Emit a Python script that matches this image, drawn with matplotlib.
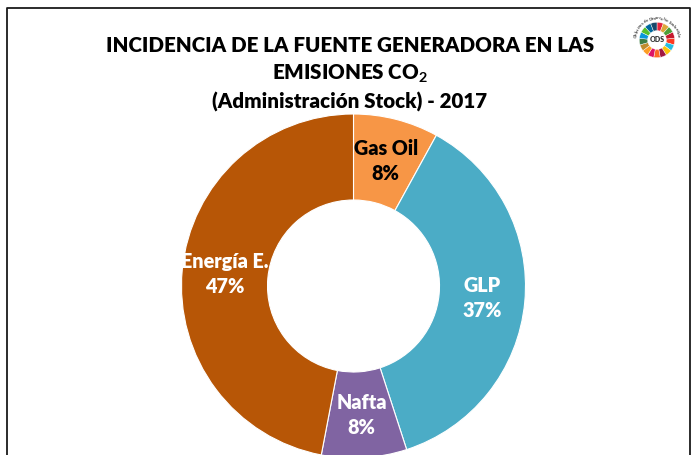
import matplotlib
matplotlib.use("Agg")
import matplotlib.pyplot as plt
from matplotlib.lines import Line2D
import numpy as np

plt.rcParams['font.family'] = ['Lato', 'DejaVu Sans']
plt.rcParams['mathtext.fontset'] = 'custom'
plt.rcParams['mathtext.rm'] = 'Lato:bold'
plt.rcParams['mathtext.it'] = 'Lato:bold'
plt.rcParams['mathtext.bf'] = 'Lato:bold'

categories = ["Gas Oil", "GLP", "Nafta", "Energía E."]
values = [8, 37, 8, 47]
colors = ["#F79646", "#4BACC6", "#8064A2", "#B75606"]
label_colors = ["black", "white", "white", "white"]

title_lines = ["INCIDENCIA DE LA FUENTE GENERADORA EN LAS",
               "EMISIONES CO$_{2}$",
               "(Administración Stock) - 2017"]

sdg_colors = ["#E5243B", "#DDA63A", "#4C9F38", "#C5192D", "#FF3A21", "#26BDE2",
              "#FCC30B", "#A21942", "#FD6925", "#DD1367", "#FD9D24", "#BF8B2E",
              "#3F7E44", "#0A97D9", "#56C02B", "#00689D", "#19486A"]

W, H = 696, 455
fig = plt.figure(figsize=(W / 100, H / 100), dpi=100)
fig.patch.set_facecolor("white")

# donut
cx, cy, r = 353.5, 286, 172
ax = fig.add_axes([(cx - r) / W, (H - cy - r) / H, 2 * r / W, 2 * r / H])
labels = [f"{c}\n{v}%" for c, v in zip(categories, values)]
wedges, texts = ax.pie(values, colors=colors, startangle=90, counterclock=False,
                       labels=labels, labeldistance=0.75,
                       wedgeprops=dict(width=0.5, edgecolor="white", linewidth=0.8),
                       textprops=dict(fontsize=14.2, fontweight="heavy", linespacing=1.35))
for t, c in zip(texts, label_colors):
    t.set_color(c)
    t.set_ha("center")
    t.set_va("center")
ax.set_xlim(-1, 1)
ax.set_ylim(-1, 1)
ax.set_aspect("equal")
ax.axis("off")

# title
ys = [45, 74, 102]
for line, y in zip(title_lines, ys):
    fig.text(350 / W, 1 - y / H, line, ha="center", va="center",
             fontsize=14.8, fontweight="heavy", color="black")

# frame
fx = [7 / W, 7 / W, 690 / W, 690 / W]
fy = [-0.02, 1 - 8 / H, 1 - 8 / H, -0.02]
fig.add_artist(Line2D(fx, fy, transform=fig.transFigure, color="#1a1a1a", lw=1.3))

# ODS logo
lc, lr = (657, 40), 26
lax = fig.add_axes([(lc[0] - lr) / W, (H - lc[1] - lr) / H, 2 * lr / W, 2 * lr / H])
lax.pie([1] * len(sdg_colors), colors=sdg_colors, startangle=90, counterclock=False,
        radius=0.68, wedgeprops=dict(width=0.32, edgecolor="white", linewidth=0.3))
lax.text(0, 0, "ODS", ha="center", va="center", fontsize=5, fontweight="heavy", color="#333333")
ring_text = "Objetivos de Desarrollo Sostenible"
angs = np.linspace(170, 10, len(ring_text))
for ch, a in zip(ring_text, angs):
    rad = np.deg2rad(a)
    lax.text(0.83 * np.cos(rad), 0.83 * np.sin(rad), ch, rotation=a - 90,
             ha="center", va="center", fontsize=3.2, fontweight="bold", color="#444444")
lax.set_xlim(-1, 1)
lax.set_ylim(-1, 1)
lax.set_aspect("equal")
lax.axis("off")

fig.savefig("out.png", dpi=100, facecolor="white")
